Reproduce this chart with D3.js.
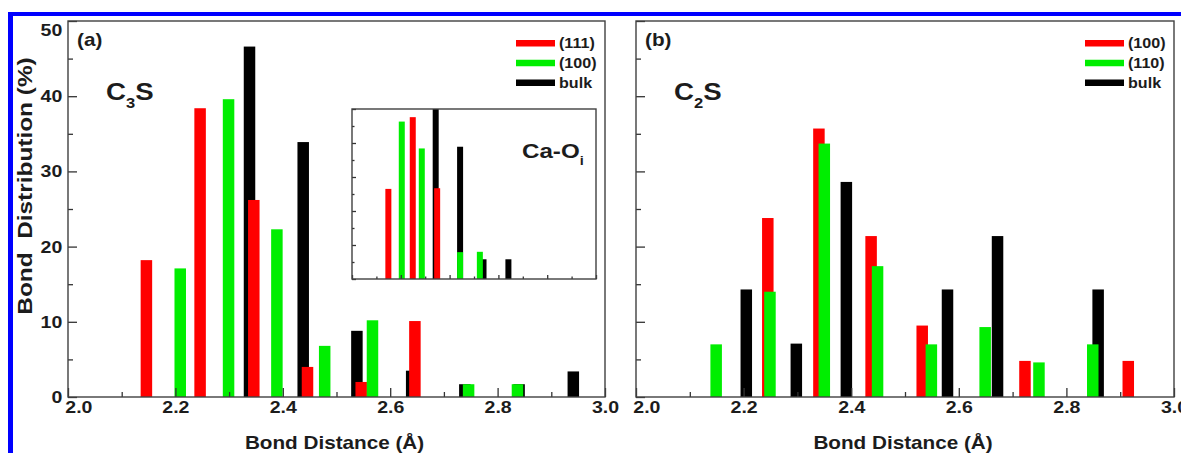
<!DOCTYPE html>
<html>
<head>
<meta charset="utf-8">
<script src="https://cdn.jsdelivr.net/npm/d3@7/dist/d3.min.js"></script>
<style>
body { margin: 0; background: #fff; }
text { font-family: "Liberation Sans", Arial, sans-serif; font-weight: bold; fill: #1c1c1c; }
</style>
</head>
<body>
<svg width="1181" height="453"></svg>
<script>

// panel (a) C3S
var c3s111X = [2.146, 2.246, 2.346, 2.446, 2.546, 2.646]
var c3s111Y = [18.2, 38.4, 26.2, 4.0, 2.0, 10.1]
var c3s100X = [2.209, 2.299, 2.389, 2.478, 2.567, 2.746, 2.837]
var c3s100Y = [17.1, 39.6, 22.3, 6.8, 10.2, 1.7, 1.7]
var c3sBulkX = [2.338, 2.438, 2.538, 2.640, 2.739, 2.840, 2.941]
var c3sBulkY = [46.6, 33.9, 8.8, 3.5, 1.7, 1.7, 3.4]

// inset Ca-Oi
var caoRedX = [2.149, 2.249, 2.349]
var caoRedY = [26.5, 47.6, 26.7]
var caoGreenX = [2.204, 2.286, 2.443, 2.524]
var caoGreenY = [46.3, 38.4, 7.9, 8.0]
var caoBlackX = [2.343, 2.443, 2.539, 2.641]
var caoBlackY = [50, 38.9, 5.8, 5.8]

// panel (b) C2S
var c2s100X = [2.245, 2.340, 2.437, 2.532, 2.723, 2.915]
var c2s100Y = [23.8, 35.7, 21.4, 9.5, 4.8, 4.8]
var c2s110X = [2.149, 2.249, 2.350, 2.449, 2.549, 2.649, 2.749, 2.849]
var c2s110Y = [7.0, 14.0, 33.7, 17.4, 7.0, 9.3, 4.6, 7.0]
var c2sBulkX = [2.205, 2.298, 2.391, 2.579, 2.672, 2.859]
var c2sBulkY = [14.3, 7.1, 28.6, 14.3, 21.4, 14.3]

var legendA = ["(111)", "(100)", "bulk"]
var legendB = ["(100)", "(110)", "bulk"]
var colors = ["#ff0000", "#00ee00", "#000000"]

var xMajor = [2.0, 2.2, 2.4, 2.6, 2.8, 3.0]
var xMinor = [2.1, 2.3, 2.5, 2.7, 2.9]
var yMajor = [0, 10, 20, 30, 40, 50]
var yMinor = [5, 15, 25, 35, 45]

var stretch = 1.15
var svg = d3.select("svg")

// blue frame
svg.append("rect").attr("x", 8).attr("y", 12).attr("width", 1173).attr("height", 4).attr("fill", "#0000ff")
svg.append("rect").attr("x", 8).attr("y", 12).attr("width", 5).attr("height", 441).attr("fill", "#0000ff")

var zip = function(xs, ys)
{
    return xs.map(function(x, i) { return {x: x, y: ys[i]} })
}

var label = function(g, x, y, txt, size, anchor)
{
    return g.append("text")
        .attr("transform", "translate(" + x + "," + y + ") scale(" + stretch + ",1)")
        .attr("text-anchor", anchor || "start")
        .style("font-size", size + "px")
        .text(txt)
}

var drawBars = function(g, xScale, yScale, xs, ys, color, w)
{
    g.append("g")
        .attr("fill", color)
        .selectAll("rect")
        .data(zip(xs, ys))
        .enter()
        .append("rect")
        .attr("x", function(d) { return xScale(d.x) - w / 2 })
        .attr("width", w)
        .attr("y", function(d) { return yScale(d.y) })
        .attr("height", function(d) { return yScale(0) - yScale(d.y) })
}

var drawAxes = function(g, xScale, yScale, big, small, showX, showY)
{
    var h = yScale(0)
    var xa = g.append("g").attr("class", "axis").attr("transform", "translate(0," + h + ")")
    xa.append("g").call(d3.axisBottom(xScale).tickValues(xMajor).tickSizeInner(-big).tickSizeOuter(0).tickPadding(4)
        .tickFormat(showX ? d3.format(".1f") : ""))
    xa.append("g").call(d3.axisBottom(xScale).tickValues(xMinor).tickSizeInner(-small).tickSizeOuter(0).tickFormat(""))

    var ya = g.append("g").attr("class", "axis")
    ya.append("g").call(d3.axisLeft(yScale).tickValues(yMajor).tickSizeInner(-big).tickSizeOuter(0).tickPadding(5)
        .tickFormat(showY ? d3.format("d") : ""))
    ya.append("g").call(d3.axisLeft(yScale).tickValues(yMinor).tickSizeInner(-small).tickSizeOuter(0).tickFormat(""))

    g.selectAll(".axis .domain").remove()
    g.selectAll(".axis line").attr("stroke", "#333").attr("stroke-width", 1.3)
    g.selectAll(".axis text")
        .attr("fill", "#1c1c1c")
        .style("font-family", "\"Liberation Sans\", Arial, sans-serif")
        .style("font-weight", "bold")
        .style("font-size", "17px")
        .attr("transform", "scale(" + stretch + ",1)")

    // first x label and top y label are nudged inside in the original
    xa.selectAll(".tick").filter(function(d) { return d === 2.0 }).select("text").attr("x", 9)
    ya.selectAll(".tick").filter(function(d) { return d === 50 }).select("text").attr("y", 9)

    g.append("rect")
        .attr("width", xScale.range()[1])
        .attr("height", h)
        .attr("fill", "none")
        .attr("stroke", "#404040")
        .attr("stroke-width", 1.4)
}

var drawLegend = function(g, x, y, names)
{
    var gs = g.append("g")
        .selectAll("g")
        .data(names)
        .enter()
        .append("g")
        .attr("transform", function(d, i) { return "translate(" + x + "," + (y + i * 19.7) + ")" })

    gs.append("line")
        .attr("x1", 0).attr("x2", 39)
        .attr("stroke", function(d, i) { return colors[i] })
        .attr("stroke-width", 6.5)

    gs.append("text")
        .attr("transform", "translate(43,4.8) scale(" + stretch + ",1)")
        .style("font-size", "14px")
        .text(function(d) { return d })
}

var subLabel = function(g, x, y, a, sub, b, size)
{
    var t = label(g, x, y, "", size)
    t.append("tspan").text(a)
    t.append("tspan").attr("dy", size * 0.33).style("font-size", (size * 0.6) + "px").text(sub)
    t.append("tspan").attr("dy", -size * 0.33).text(b)
}

var drawPanel = function(left, top, width, height, series, legend, tag, formula, showY)
{
    var g = svg.append("g").attr("transform", "translate(" + left + "," + top + ")")

    var xScale = d3.scaleLinear().domain([2.0, 3.0]).range([0, width])
    var yScale = d3.scaleLinear().domain([0, 50]).range([height, 0])

    series.forEach(function(s, i) { drawBars(g, xScale, yScale, s[0], s[1], s[2], 11.5) })
    drawAxes(g, xScale, yScale, 9, 5, true, showY)

    label(g, 9, 25, tag, 18)
    subLabel(g, 38, 79, formula[0], formula[1], formula[2], 24)
    drawLegend(g, width - 89, 22.3, legend)

    label(svg, left + width / 2 - 2, 449, "Bond Distance (\u00c5)", 18, "middle")
    return g
}

// order: bulk, then red, then green on top
var gA = drawPanel(68, 21, 537, 376, [
    [c3sBulkX, c3sBulkY, colors[2]],
    [c3s111X, c3s111Y, colors[0]],
    [c3s100X, c3s100Y, colors[1]]
], legendA, "(a)", ["C", "3", "S"], true)

drawPanel(636, 21, 538, 376, [
    [c2sBulkX, c2sBulkY, colors[2]],
    [c2s100X, c2s100Y, colors[0]],
    [c2s110X, c2s110Y, colors[1]]
], legendB, "(b)", ["C", "2", "S"], false)

// inset
var gi = svg.append("g").attr("transform", "translate(352,109)")
var xi = d3.scaleLinear().domain([2.0, 3.0]).range([0, 244])
var yi = d3.scaleLinear().domain([0, 50]).range([170, 0])
gi.append("rect").attr("width", 244).attr("height", 170).attr("fill", "#fff")
drawBars(gi, xi, yi, caoBlackX, caoBlackY, colors[2], 6)
drawBars(gi, xi, yi, caoRedX, caoRedY, colors[0], 6)
drawBars(gi, xi, yi, caoGreenX, caoGreenY, colors[1], 6)
drawAxes(gi, xi, yi, 4, 2.5, false, false)
subLabel(gi, 170, 49, "Ca-O", "i", "", 21)

// y title
svg.append("text")
    .attr("transform", "translate(32,186) rotate(-90) scale(1.22,1)")
    .attr("text-anchor", "middle")
    .style("font-size", "20px")
    .text("Bond  Distribution (%)")
    .attr("xml:space", "preserve")
    .style("white-space", "pre")

</script>
</body>
</html>
